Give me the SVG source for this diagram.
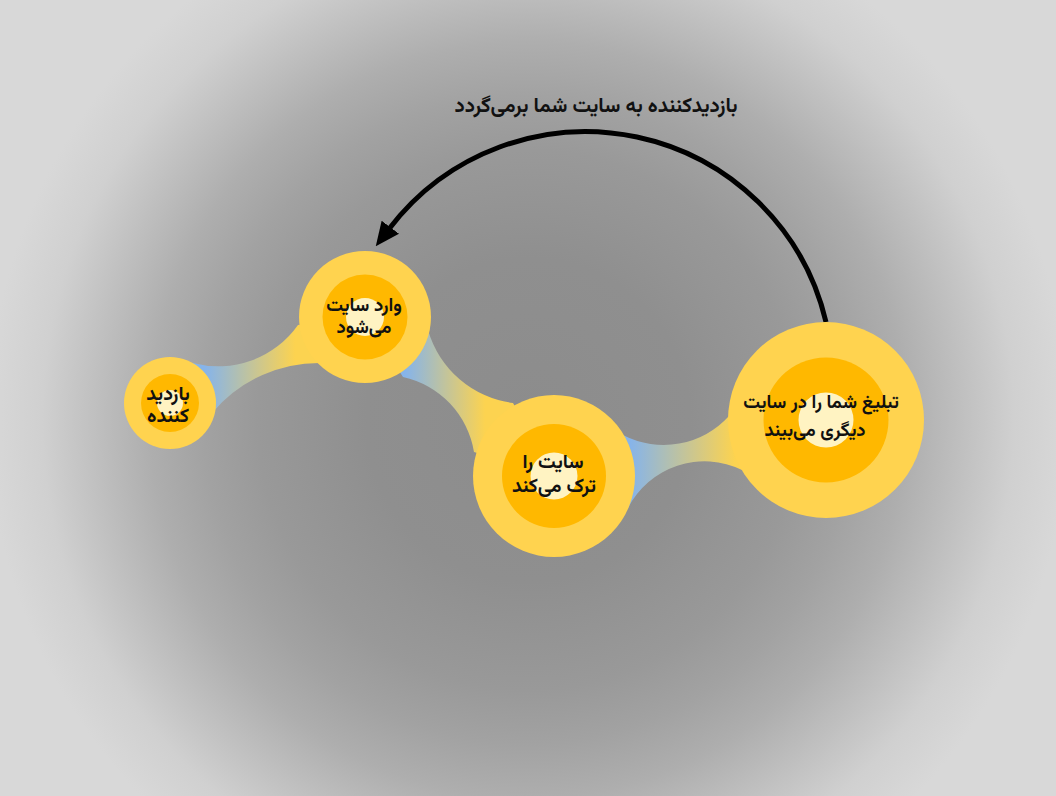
<svg xmlns="http://www.w3.org/2000/svg" width="1056" height="796" viewBox="0 0 1056 796">
  <defs>
    <radialGradient id="bg" gradientUnits="userSpaceOnUse" cx="528" cy="420" r="540">
      <stop offset="0" stop-color="#8c8c8c"/>
      <stop offset="0.3" stop-color="#8f8f8f"/>
      <stop offset="0.5" stop-color="#999999"/>
      <stop offset="0.6" stop-color="#a2a2a2"/>
      <stop offset="0.7" stop-color="#aeaeae"/>
      <stop offset="0.8" stop-color="#bfbfbf"/>
      <stop offset="0.9" stop-color="#d0d0d0"/>
      <stop offset="1" stop-color="#d8d8d8"/>
    </radialGradient>
    <linearGradient id="g12" gradientUnits="userSpaceOnUse" x1="205" y1="0" x2="295" y2="0">
      <stop offset="0" stop-color="#86b4ea"/>
      <stop offset="1" stop-color="#fcd350"/>
    </linearGradient>
    <linearGradient id="g23" gradientUnits="userSpaceOnUse" x1="405" y1="0" x2="485" y2="0">
      <stop offset="0" stop-color="#86b4ea"/>
      <stop offset="1" stop-color="#fcd350"/>
    </linearGradient>
    <linearGradient id="g34" gradientUnits="userSpaceOnUse" x1="630" y1="0" x2="735" y2="0">
      <stop offset="0" stop-color="#86b4ea"/>
      <stop offset="1" stop-color="#fcd350"/>
    </linearGradient>
    <marker id="arrow" markerUnits="userSpaceOnUse" markerWidth="24" markerHeight="24" refX="2" refY="10" orient="auto" viewBox="0 0 22 20">
      <path d="M0,0 L22,10 L0,20 z" fill="#000"/>
    </marker>
    <style>
      .outer { fill: #ffd34f; }
      .mid { fill: #ffb800; }
      .inner { fill: #fff3c2; }
      .lbl { font-family: "Vazirmatn", "Noto Sans Arabic", "DejaVu Sans", sans-serif; font-weight: bold; fill: #111; text-anchor: middle; direction: rtl; }
      .title { font-family: "Vazirmatn", "Noto Sans Arabic", "DejaVu Sans", sans-serif; font-weight: bold; fill: #111; text-anchor: middle; font-size: 20.5px; direction: rtl; }
    </style>
  </defs>
  <rect x="0" y="0" width="1056" height="796" fill="url(#bg)"/>

  <g id="connectors">
    <path id="band-1-2" fill="url(#g12)" d="M193,363 A97.5,97.5 0 0 0 298,325 L365,317 L323,363 A139.5,139.5 0 0 0 213,412 L170,403 Z"/>
    <path id="band-2-3" fill="url(#g23)" d="M428,330 A102,102 0 0 0 513,403 L554,476 L474,452 A92,92 0 0 0 403,377 L365,317 Z"/>
    <path id="band-3-4" fill="url(#g34)" d="M623,435 A88,88 0 0 0 729,416 L826,420 L742,470 A86,86 0 0 0 628,508 L554,476 Z"/>
    <path id="return-arrow" d="M826,322 A247,247 0 0 0 389,229" fill="none" stroke="#000" stroke-width="5" marker-end="url(#arrow)"/>
    <text class="title" x="596" y="112">بازدیدکننده به سایت شما برمی‌گردد</text>
  </g>

  <g id="node-visitor">
    <circle class="outer" cx="170" cy="403" r="46"/>
    <circle class="mid" cx="170" cy="403" r="29"/>
    <circle class="inner" cx="170" cy="403" r="13"/>
    <text class="lbl" font-size="19.5" x="168" y="400">بازدید</text>
    <text class="lbl" font-size="19.5" x="168" y="422">کننده</text>
  </g>

  <g id="node-enter">
    <circle class="outer" cx="365" cy="317" r="66"/>
    <circle class="mid" cx="365" cy="317" r="42.5"/>
    <circle class="inner" cx="365" cy="317" r="19"/>
    <text class="lbl" font-size="18.5" x="364" y="311">وارد سایت</text>
    <text class="lbl" font-size="18.5" x="364" y="333">می‌شود</text>
  </g>

  <g id="node-leave">
    <circle class="outer" cx="554" cy="476" r="81"/>
    <circle class="mid" cx="554" cy="476" r="52"/>
    <circle class="inner" cx="554" cy="476" r="23.5"/>
    <text class="lbl" font-size="19.5" x="553" y="468">سایت را</text>
    <text class="lbl" font-size="19.5" x="554" y="492">ترک می‌کند</text>
  </g>

  <g id="node-ad">
    <circle class="outer" cx="826" cy="420" r="98"/>
    <circle class="mid" cx="826" cy="420" r="62.5"/>
    <circle class="inner" cx="826" cy="420" r="27.5"/>
    <text class="lbl" font-size="18.5" x="821" y="408">تبلیغ شما را در سایت</text>
    <text class="lbl" font-size="18.5" x="815" y="436">دیگری می‌بیند</text>
  </g>
</svg>
